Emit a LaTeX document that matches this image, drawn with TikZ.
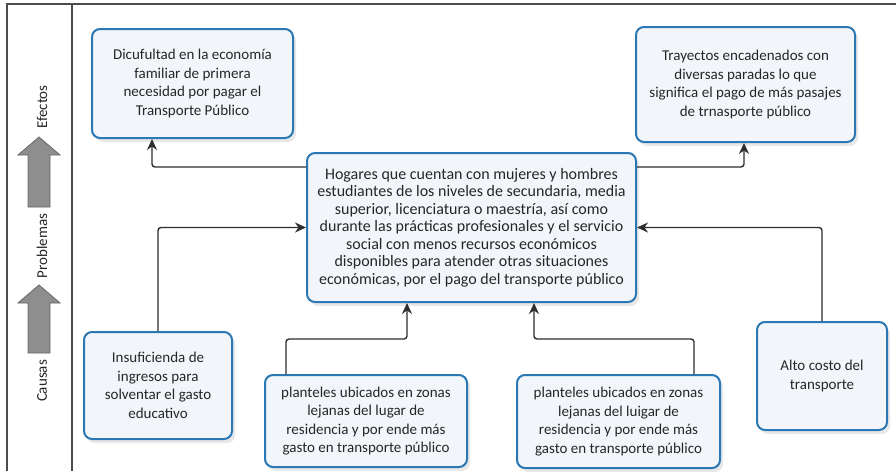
\documentclass[tikz,border=0pt]{standalone}
\usepackage{fontspec}
\setmainfont{Carlito}
\usetikzlibrary{arrows.meta,shadows,calc}
\definecolor{boxblue}{HTML}{2A78B4}
\definecolor{boxfill}{HTML}{F2F6FA}
\definecolor{linegray}{HTML}{2E2E2E}
\definecolor{txtgray}{HTML}{262626}
\definecolor{arrowgray}{HTML}{8E8E8E}
\tikzset{
  box/.style={draw=boxblue, line width=2pt, rounded corners=8pt, fill=boxfill,
    align=center, inner sep=4pt, text=txtgray, font=\fontsize{15}{18.5}\selectfont,
    drop shadow={opacity=0.18, shadow xshift=3pt, shadow yshift=-4pt}},
  conn/.style={draw=linegray, line width=1.4pt, rounded corners=3pt,
    -{Stealth[length=11pt,width=10pt]}},
  frameline/.style={draw=black!70, line width=1.2pt},
  bigarrow/.style={fill=arrowgray, draw=black!60, line width=0.8pt},
  sidelabel/.style={rotate=90, text=txtgray, font=\fontsize{15}{16}\selectfont, inner sep=0pt}
}
\begin{document}
\begin{tikzpicture}[x=1pt, y=-1pt]
\useasboundingbox (0,0) rectangle (896,471);
\fill[white] (0,0) rectangle (896,471);
% frame
\draw[frameline] (7,471) -- (7,4) -- (896,4);
\draw[frameline] (72,4) -- (72,471);
% left panel arrows
\draw[bigarrow] (39,137) -- (60,155) -- (50,155) -- (50,207) -- (28,207) -- (28,155) -- (18,155) -- cycle;
\draw[bigarrow] (39,285) -- (60,303) -- (50,303) -- (50,353) -- (28,353) -- (28,303) -- (18,303) -- cycle;
\node[sidelabel] (lefe) at (42,107) {Efectos};
\node[sidelabel] (lpro) at (42,246) {Problemas};
\node[sidelabel] (lcau) at (42,381) {Causas};
% boxes
\node[box, minimum width=201pt, minimum height=109pt] (A) at (192.5,83.5)
  {Dicufultad en la economía\\familiar de primera\\necesidad por pagar el\\Transporte Público};
\node[box, minimum width=219pt, minimum height=115pt] (B) at (745.5,84.5)
  {Trayectos encadenados con\\diversas paradas lo que\\significa el pago de más pasajes\\de trnasporte público};
\node[box, minimum width=329pt, minimum height=149pt, font=\fontsize{16}{17.5}\selectfont] (C) at (471.5,227.5)
  {Hogares que cuentan con mujeres y hombres\\estudiantes de los niveles de secundaria, media\\superior, licenciatura o maestría, así como\\durante las prácticas profesionales y el servicio\\social con menos recursos económicos\\disponibles para atender otras situaciones\\económicas, por el pago del transporte público};
\node[box, minimum width=148pt, minimum height=107pt] (D) at (158,385.5)
  {Insuficienda de\\ingresos para\\solventar el gasto\\educativo};
\node[box, minimum width=202pt, minimum height=92pt] (E) at (366,421)
  {planteles ubicados en zonas\\lejanas del lugar de\\residencia y por ende más\\gasto en transporte público};
\node[box, minimum width=203pt, minimum height=93pt] (F) at (618.5,421.5)
  {planteles ubicados en zonas\\lejanas del luigar de\\residencia y por ende más\\gasto en transporte público};
\node[box, minimum width=130pt, minimum height=108pt] (G) at (822,376)
  {Alto costo del\\transporte};
% connectors
\draw[conn] ([yshift=-15pt]C.north west) -| ([xshift=61pt]A.south west);
\draw[conn] ([yshift=-15pt]C.north east) -| ([xshift=109pt]B.south west);
\draw[conn] (D.north) |- (C.west);
\draw[conn] ([xshift=22pt]E.north west) -- ++(0,-35) -| ([xshift=101pt]C.south west);
\draw[conn] ([xshift=178pt]F.north west) -- ++(0,-35) -| ([xshift=228pt]C.south west);
\draw[conn] (G.north) |- (C.east);
\end{tikzpicture}
\end{document}
